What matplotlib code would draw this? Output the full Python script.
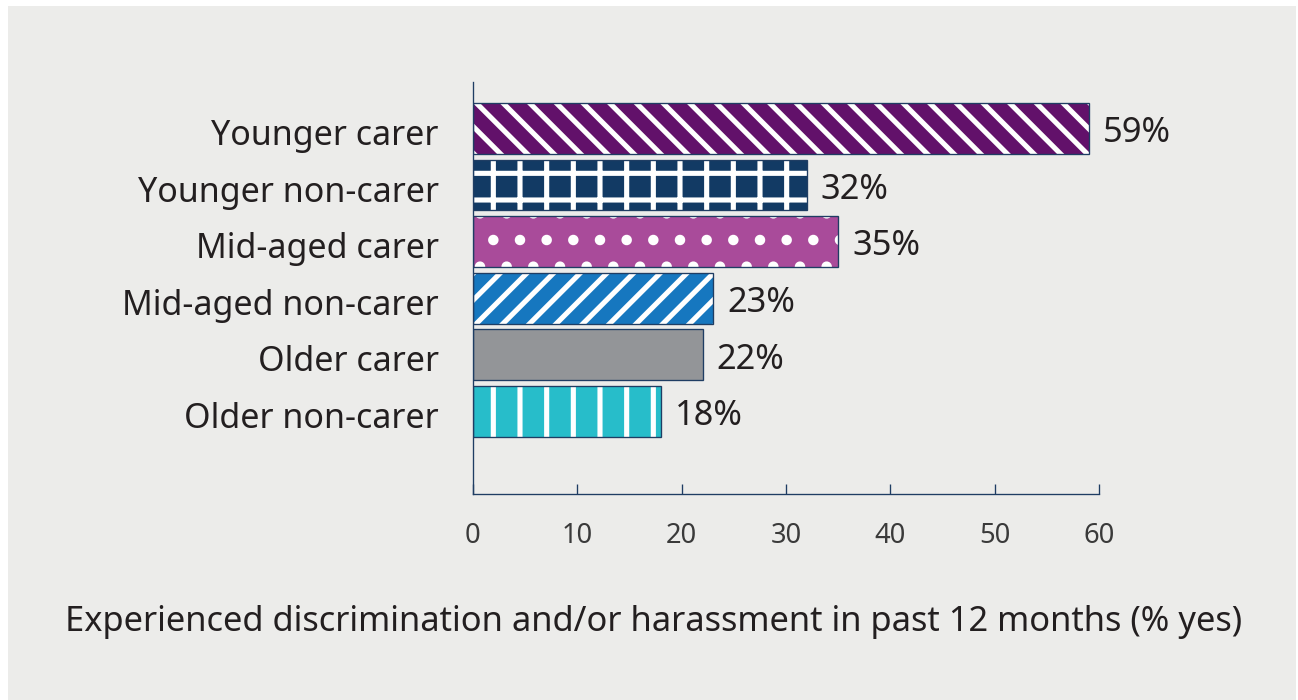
import matplotlib
matplotlib.use("Agg")
import matplotlib.pyplot as plt
import matplotlib.transforms as mtransforms
from matplotlib.patches import Rectangle

# data
groups = ["Younger carer", "Younger non-carer", "Mid-aged carer",
          "Mid-aged non-carer", "Older carer", "Older non-carer"]
pct_yes = [59, 32, 35, 23, 22, 18]
bar_colors = ["#62116a", "#123a64", "#a94b9a", "#1677bf", "#939598", "#27bdca"]
bar_hatches = ["\\\\", "+", ".", "//", "", "|"]
x_ticks = [0, 10, 20, 30, 40, 50, 60]

DPI = 160
W, H = 1298, 700
navy = "#1f3d63"
text_col = "#231f20"

plt.rcParams['font.family'] = ['Noto Sans', 'DejaVu Sans']
plt.rcParams['hatch.linewidth'] = 2.3

fig = plt.figure(figsize=(W / DPI, H / DPI), dpi=DPI, facecolor="white")
# grey panel behind everything
fig.patches.append(Rectangle((8 / W, 0), 1 - 10 / W, 1 - 6 / H,
                             transform=fig.transFigure, facecolor="#ececea",
                             edgecolor="none", zorder=-10))

ax = fig.add_axes([473 / W, 1 - 494 / H, 626 / W, 412 / H])
ax.set_facecolor("none")
ax.set_zorder(1)

ypos = list(range(len(groups)))
fills = ax.barh(ypos, pct_yes, height=0.9, color=bar_colors,
                edgecolor="white", linewidth=0)
for p, h in zip(fills, bar_hatches):
    p.set_hatch(h)
ax.barh(ypos, pct_yes, height=0.9, fill=False, edgecolor=navy, linewidth=0.6)

for y, v in zip(ypos, pct_yes):
    ax.annotate(f"{v}%", (v, y), xytext=(6.3, -2.2), textcoords="offset points",
                ha="left", va="center", fontsize=15.5, color=text_col)

ax.set_xlim(0, 60)
ax.set_ylim(6.46, -0.82)
ax.set_yticks(ypos)
ax.set_yticklabels(groups, fontsize=15.3, color=text_col)
ax.tick_params(axis="y", length=0, pad=15.5)
# nudge the category labels down a little, like the original
shift = mtransforms.ScaledTranslation(0, -3.5 / DPI, fig.dpi_scale_trans)
for lab in ax.get_yticklabels():
    lab.set_transform(lab.get_transform() + shift)
ax.set_xticks(x_ticks)
ax.tick_params(axis="x", direction="in", length=4.5, width=0.6, color=navy,
               labelsize=12.3, labelcolor="#3a3a3a", pad=12.8)

for s in ["top", "right"]:
    ax.spines[s].set_visible(False)
for s in ["left", "bottom"]:
    ax.spines[s].set_color(navy)
    ax.spines[s].set_linewidth(0.6)

fig.text(654 / W, 1 - 622 / H,
         "Experienced discrimination and/or harassment in past 12 months (% yes)",
         ha="center", va="center", fontsize=15.5, color=text_col)

fig.savefig("out.png", dpi=DPI, facecolor="white")
